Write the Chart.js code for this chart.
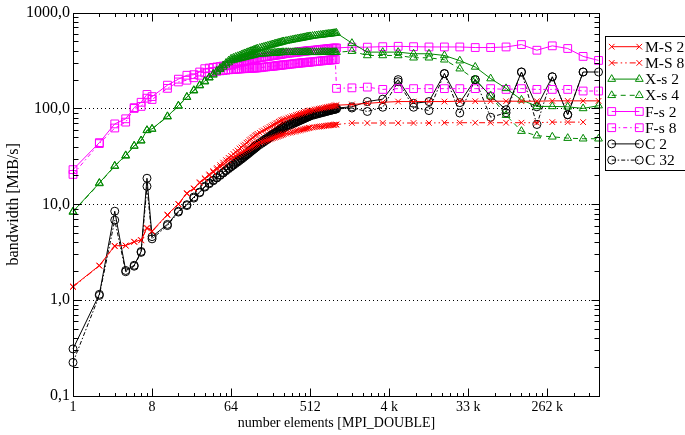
<!DOCTYPE html>
<html>
<head>
<meta charset="utf-8">
<script src="https://cdn.jsdelivr.net/npm/chart.js@4.4.1/dist/chart.umd.min.js"></script>
<style>
  html, body { margin: 0; padding: 0; background: #fff; }
  #chart { display: block; }
</style>
</head>
<body>
<canvas id="chart" width="685" height="435"></canvas>
<script>
// message sizes (number of MPI_DOUBLE elements)
const elements = [1, 2, 3, 4, 5, 6, 7, 8, 12, 16, 20, 24, 28,
  32, 36, 40, 44, 48, 52, 56, 60, 64,
  68, 72, 76, 80, 84, 88, 92, 96, 100, 104, 108, 112, 116, 120, 124, 128,
  136, 144, 152, 160, 168, 176, 184, 192, 200, 208, 216, 224, 232, 240, 248, 256,
  272, 288, 304, 320, 336, 352, 368, 384, 400, 416, 432, 448, 464, 480, 496, 512,
  544, 576, 608, 640, 672, 704, 736, 768, 800, 832, 864, 896, 928, 960, 992, 1024,
  1536, 2304, 3456, 5184, 7776, 11664, 17496, 26244, 39366,
  59049, 88574, 132860, 199290, 298935, 448403, 672605, 1008907];

// bandwidth in MiB/s, one array per run
const msS2 = [1.39, 2.30, 3.69, 3.72, 4.08, 4.25, 5.70, 5.27, 7.82, 10.1, 13.1, 14.7, 17.0,
  18.7, 20.5, 22.2, 23.9, 25.6, 27.2, 28.9, 30.5, 32.0,
  33.5, 35.2, 36.4, 38.2, 39.2, 41.0, 42.0, 43.9, 44.9, 46.7, 47.7, 49.5, 50.3, 52.1, 52.9, 54.4,
  55.7, 57.8, 58.9, 61.0, 62.1, 64.1, 65.1, 67.0, 67.9, 69.8, 70.7, 72.5, 73.4, 75.2, 75.9, 77.4,
  78.4, 80.2, 81.1, 82.8, 83.6, 85.2, 86.0, 87.5, 88.1, 89.5, 90.2, 91.6, 92.2, 93.5, 94.1, 95.3,
  96.1, 97.4, 98.1, 99.3, 99.9, 101.1, 101.6, 102.7, 103.2, 104.2, 104.6, 105.6, 106.0, 106.9, 107.4, 108,
  110, 113, 116, 118, 118, 118, 118, 119, 119, 119, 119, 119, 119, 120, 120, 120, 120];
const msS8 = [1.37, 2.28, 3.65, 3.70, 4.05, 4.20, 5.60, 5.20, 7.70, 10.0, 12.9, 14.5, 16.7,
  18.4, 20.0, 21.6, 23.1, 24.5, 25.9, 27.3, 28.7, 30.0,
  30.9, 31.8, 32.7, 33.6, 34.5, 35.3, 36.2, 37.0, 37.8, 38.6, 39.4, 40.1, 40.9, 41.6, 42.3, 43.0,
  43.9, 44.7, 45.5, 46.2, 46.9, 47.6, 48.3, 49.0, 49.6, 50.2, 50.8, 51.4, 52.0, 52.6, 53.3, 54.0,
  54.7, 55.4, 56.0, 56.6, 57.3, 57.9, 58.5, 59.0, 59.6, 60.1, 60.6, 61.1, 61.6, 62.1, 62.6, 63.0,
  63.4, 63.8, 64.2, 64.5, 64.9, 65.2, 65.6, 65.9, 66.2, 66.5, 66.8, 67.0, 67.3, 67.5, 67.8, 68.0,
  70.5, 70.5, 70.5, 70.5, 70.5, 70.5, 71, 71, 71, 71, 71, 71, 71, 72, 72, 72, null];
const xs2 = [8.4, 16.7, 25.2, 32.4, 40.8, 46.3, 59.3, 61.2, 82.8, 107, 132, 155, 175,
  193, 211, 229, 247, 264, 281, 298, 315, 330,
  337, 344, 350, 356, 363, 369, 375, 380, 386, 391, 396, 401, 406, 411, 416, 420,
  427, 433, 439, 444, 450, 455, 460, 465, 470, 475, 479, 483, 488, 492, 496, 500,
  505, 510, 515, 520, 525, 529, 533, 537, 541, 544, 548, 552, 556, 559, 562, 565,
  569, 573, 577, 580, 583, 586, 590, 593, 596, 598, 601, 603, 606, 609, 611, 613,
  480, 387, 387, 387, 372, 372, 357, 315, 271, 205, 162, 123, 105, 105, 104, 100, 107];
const xs4 = [8.3, 16.5, 25.0, 32.0, 40.5, 46.0, 59.0, 61.0, 82.0, 106, 131, 153, 173,
  190, 209, 224, 241, 256, 271, 285, 301, 315,
  320, 324, 328, 332, 336, 339, 343, 346, 349, 352, 355, 358, 361, 364, 367, 370,
  371, 372, 373, 374, 375, 376, 377, 378, 379, 380, 381, 382, 383, 384, 385, 385,
  386, 386, 385, 385, 386, 387, 386, 386, 385, 385, 386, 386, 387, 387, 386, 385,
  386, 386, 385, 385, 386, 386, 387, 387, 386, 386, 385, 385, 386, 386, 386, 386,
  396, 357, 357, 357, 338, 338, 322, 260, 200, 135, 85, 58, 52, 50.6, 49, 48.3, 48.3];
const fs2 = [23, 44, 69, 78, 102, 116, 140, 133, 175, 202, 222, 225, 240,
  260, 264, 268, 271, 274, 277, 280, 283, 285,
  289, 293, 297, 300, 304, 307, 310, 313, 316, 319, 322, 325, 328, 330, 333, 335,
  338, 341, 344, 346, 349, 351, 354, 356, 358, 360, 362, 364, 366, 368, 370, 372,
  375, 377, 379, 381, 383, 385, 387, 389, 391, 393, 395, 396, 398, 399, 401, 402,
  404, 406, 408, 410, 412, 414, 416, 417, 419, 420, 422, 423, 425, 426, 427, 428,
  436, 436, 441, 445, 441, 438, 438, 438, 432, 432, 438, 464, 405, 450, 422, 349, 317];
const fs8 = [20.5, 43, 62.5, 72, 100, 105, 128, 124, 162, 189, 197, 209, 222,
  235, 238, 241, 244, 247, 249, 251, 253, 255,
  255, 256, 257, 258, 259, 260, 260, 261, 262, 262, 263, 263, 264, 264, 265, 265,
  266, 268, 270, 271, 273, 274, 275, 276, 277, 278, 280, 281, 282, 283, 284, 285,
  286, 288, 290, 291, 293, 294, 296, 297, 298, 299, 300, 301, 302, 303, 304, 305,
  306, 308, 310, 311, 313, 314, 316, 317, 318, 319, 320, 321, 322, 323, 324, 162,
  164, 167, 158, 161, 161, 161, 161, 161, 161, 161, 158, 161, 158, 158, 158, 152, 152];
const c2 = [0.31, 1.15, 8.47, 2.04, 2.31, 3.22, 18.7, 4.60, 6.17, 8.47, 9.9, 11.9, 13.4,
  15.4, 16.7, 17.9, 19.1, 20.3, 21.5, 22.7, 23.9, 25.0,
  26.2, 27.3, 28.4, 29.4, 30.5, 31.6, 32.6, 33.7, 34.8, 35.8, 36.9, 37.9, 39.0, 40.0, 41.0, 42.0,
  43.6, 45.2, 46.8, 48.3, 49.8, 51.2, 52.7, 54.2, 55.6, 57.0, 58.4, 59.8, 61.1, 62.4, 63.7, 65.0,
  66.6, 68.1, 69.6, 71.1, 72.5, 73.8, 75.1, 76.4, 77.7, 78.9, 80.2, 81.4, 82.5, 83.6, 84.8, 86.0,
  87.2, 88.4, 89.6, 90.7, 91.8, 92.8, 93.8, 94.8, 95.7, 96.6, 97.5, 98.3, 99.0, 99.7, 100.4, 101,
  104, 118, 125, 200, 113, 118, 231, 115, 200, 135, 97, 240, 104, 214, 86, 240, 240];
const c32 = [0.224, 1.12, 6.84, 1.98, 2.26, 3.15, 15.4, 4.36, 6.0, 8.3, 9.7, 11.6, 13.2,
  15.1, 16.4, 17.6, 18.8, 20.0, 21.2, 22.4, 23.5, 24.6,
  25.6, 26.6, 27.6, 28.6, 29.6, 30.6, 31.6, 32.6, 33.6, 34.6, 35.6, 36.6, 37.5, 38.5, 39.4, 40.4,
  41.9, 43.4, 44.9, 46.4, 47.8, 49.3, 50.7, 52.1, 53.5, 54.9, 56.2, 57.6, 58.9, 60.2, 61.5, 62.8,
  64.4, 65.9, 67.4, 68.8, 70.2, 71.5, 72.8, 74.1, 75.4, 76.6, 77.8, 79.0, 80.2, 81.3, 82.4, 83.5,
  84.8, 86.0, 87.2, 88.3, 89.4, 90.4, 91.4, 92.4, 93.3, 94.2, 95.1, 95.9, 96.7, 97.4, 98.1, 98.8,
  101, 93, 103, 190, 103, 95, 231, 89.6, 200, 81, 90, 240, 68, 214, 86, 240, null];

// axis ticks
const xTicks = [1, 8, 64, 512, 4096, 32768, 262144];
const xTickLabels = ['1', '8', '64', '512', '4 k', '33 k', '262 k'];
const yTicks = [0.1, 1, 10, 100, 1000];
const yTickLabels = ['0,1', '1,0', '10,0', '100,0', '1000,0'];
const yGridAt = [1, 10, 100];

const serif = "'Liberation Serif', 'Times New Roman', serif";

// line / marker style per run
const series = [
  { label: 'M-S 2', values: msS2, color: '#ff0000', dash: [], point: 'crossRot', r: 4 },
  { label: 'M-S 8', values: msS8, color: '#ff0000', dash: [6, 3, 1.5, 3, 1.5, 3], point: 'crossRot', r: 4 },
  { label: 'X-s 2', values: xs2, color: '#008800', dash: [], point: 'triangle', r: 4.5 },
  { label: 'X-s 4', values: xs4, color: '#008800', dash: [5, 4], point: 'triangle', r: 4.5 },
  { label: 'F-s 2', values: fs2, color: '#ff00ff', dash: [], point: 'rect', r: 5.5 },
  { label: 'F-s 8', values: fs8, color: '#ff00ff', dash: [4, 3, 1.5, 3], point: 'rect', r: 5.5 },
  { label: 'C 2', values: c2, color: '#000000', dash: [], point: 'circle', r: 4 },
  { label: 'C 32', values: c32, color: '#000000', dash: [4, 2, 1.5, 2], point: 'circle', r: 4 }
];

const datasets = series.map(s => ({
  label: s.label,
  data: elements.map((e, i) => ({ x: e, y: s.values[i] })).filter(p => p.y !== null),
  borderColor: s.color,
  borderWidth: 1,
  borderDash: s.dash,
  pointStyle: s.point,
  pointRadius: s.r,
  pointBorderColor: s.color,
  pointBackgroundColor: 'rgba(0,0,0,0)',
  pointBorderWidth: 1,
  backgroundColor: 'rgba(0,0,0,0)',
  fill: false,
  tension: 0,
  clip: false
}));

// dotted decade lines, inward ticks and the box around the plot
const framePlugin = {
  id: 'frame',
  beforeDatasetsDraw(chart) {
    const { ctx, chartArea: a, scales: { y } } = chart;
    ctx.save();
    ctx.strokeStyle = '#000';
    ctx.lineWidth = 1;
    ctx.setLineDash([1, 3]);
    yGridAt.forEach(v => {
      const py = Math.round(y.getPixelForValue(v)) + 0.5;
      ctx.beginPath();
      ctx.moveTo(a.left, py);
      ctx.lineTo(a.right, py);
      ctx.stroke();
    });
    ctx.restore();
  },
  afterDatasetsDraw(chart) {
    const { ctx, chartArea: a, scales: { x, y } } = chart;
    const L = Math.round(a.left) + 0.5, R = Math.round(a.right) - 0.5;
    const T = Math.round(a.top) + 0.5, B = Math.round(a.bottom) + 0.5;
    ctx.save();
    ctx.strokeStyle = '#000';
    ctx.lineWidth = 1;
    ctx.setLineDash([]);
    ctx.beginPath();
    xTicks.forEach(v => {
      for (let m = 1; m < 8; m++) {
        const val = v * m;
        if (val >= x.max) break;
        const len = m === 1 ? 8 : 3.5;
        const px = Math.round(x.getPixelForValue(val)) + 0.5;
        ctx.moveTo(px, B); ctx.lineTo(px, B - len);
        ctx.moveTo(px, T); ctx.lineTo(px, T + len);
      }
    });
    yTicks.forEach(v => {
      for (let m = 1; m < 10; m++) {
        const val = v * m;
        if (val > y.max) break;
        const len = m === 1 ? 8 : 5;
        const py = Math.round(y.getPixelForValue(val)) + 0.5;
        ctx.moveTo(L, py); ctx.lineTo(L + len, py);
        ctx.moveTo(R, py); ctx.lineTo(R - len, py);
      }
    });
    ctx.stroke();
    ctx.strokeRect(L, T, R - L, B - T);
    ctx.restore();
  }
};

// legend box with line + marker samples, like the gnuplot key
const keyPlugin = {
  id: 'key',
  afterDraw(chart) {
    const ctx = chart.ctx;
    const left = 605.5, top = 36.5, rowH = 16.2;
    ctx.save();
    ctx.strokeStyle = '#000';
    ctx.lineWidth = 1;
    ctx.setLineDash([]);
    ctx.strokeRect(left, top, 100, 134);
    ctx.font = '15.5px ' + serif;
    ctx.textBaseline = 'middle';
    ctx.textAlign = 'left';
    chart.data.datasets.forEach((ds, i) => {
      const yy = top + 10.2 + i * rowH;
      const x1 = 611.7, x2 = 639.3;
      ctx.strokeStyle = ds.borderColor;
      ctx.setLineDash(ds.borderDash);
      ctx.beginPath();
      ctx.moveTo(x1, yy);
      ctx.lineTo(x2, yy);
      ctx.stroke();
      ctx.setLineDash([]);
      ctx.fillStyle = 'rgba(0,0,0,0)';
      [x1, x2].forEach(px => {
        Chart.helpers.drawPoint(ctx, {
          pointStyle: ds.pointStyle, radius: ds.pointRadius, rotation: 0, borderWidth: 1
        }, px, yy);
      });
      ctx.fillStyle = '#000';
      ctx.fillText(ds.label, 645, yy + 1);
    });
    ctx.restore();
  }
};

new Chart(document.getElementById('chart'), {
  type: 'line',
  data: { datasets },
  plugins: [framePlugin, keyPlugin],
  options: {
    responsive: false,
    animation: false,
    devicePixelRatio: 1,
    layout: { padding: { left: 0, right: 85, top: 8, bottom: 0 } },
    plugins: { legend: { display: false }, tooltip: { enabled: false } },
    scales: {
      x: {
        type: 'logarithmic',
        min: 1,
        max: 1048576,
        grid: { display: false, drawTicks: false },
        border: { display: false },
        afterBuildTicks: s => { s.ticks = xTicks.map(v => ({ value: v })); },
        afterFit: s => { s.height = 39; },
        ticks: {
          autoSkip: false,
          maxRotation: 0,
          padding: 3,
          color: '#000',
          font: { family: serif, size: 14 },
          callback: (v, i) => xTickLabels[i]
        },
        title: {
          display: true,
          text: 'number elements [MPI_DOUBLE]',
          color: '#000',
          font: { family: serif, size: 14 },
          padding: { top: 0, bottom: 3 }
        }
      },
      y: {
        type: 'logarithmic',
        min: 0.1,
        max: 1000,
        grid: { display: false, drawTicks: false },
        border: { display: false },
        afterBuildTicks: s => { s.ticks = yTicks.map(v => ({ value: v })); },
        afterFit: s => { s.width = 73; },
        ticks: {
          padding: 3,
          color: '#000',
          font: { family: serif, size: 16 },
          callback: (v, i) => yTickLabels[i]
        },
        title: {
          display: true,
          text: 'bandwidth [MiB/s]',
          color: '#000',
          font: { family: serif, size: 16 },
          padding: { top: 4, bottom: 0 }
        }
      }
    }
  }
});
</script>
</body>
</html>
